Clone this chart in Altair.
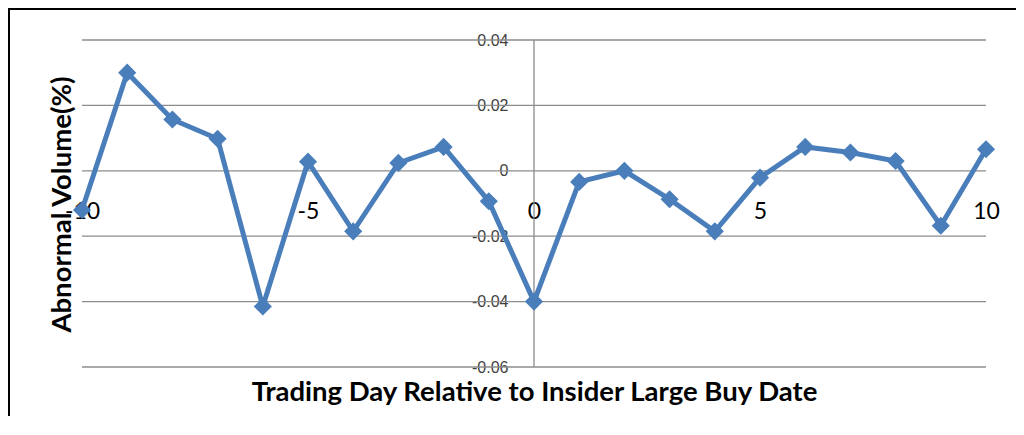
import altair as alt
import pandas as pd

days = list(range(-10, 11))
abnormal_volume = [-0.0120, 0.0300, 0.0157, 0.0098, -0.0415, 0.0028, -0.0185,
                   0.0024, 0.0073, -0.0093, -0.0400, -0.0034, 0.0000, -0.0087,
                   -0.0185, -0.0021, 0.0073, 0.0056, 0.0030, -0.0168, 0.0066]
y_ticks = [-0.06, -0.04, -0.02, 0, 0.02, 0.04]
x_ticks = [-10, -5, 0, 5, 10]
x_title = "Trading Day Relative to Insider Large Buy Date"
y_title = "Abnormal Volume(%)"

df = pd.DataFrame({"day": days, "abn": abnormal_volume})
grid_df = pd.DataFrame({"v": y_ticks})
zero_df = pd.DataFrame({"d": [0]})
frame_df = pd.DataFrame({"a": [0]})

W, H = 904, 327
PL, PT, PR, PB = 74, 32, 30, 49
BLUE = "#4A7EBB"
GRID = "#8C8C8C"

xs = alt.Scale(domain=[-10, 10], nice=False, zero=False)
ys = alt.Scale(domain=[-0.06, 0.04], nice=False, zero=False)

zero_y = H * 0.04 / 0.10  # pixel position of value 0 from top

x_axis = alt.Axis(values=x_ticks, title=x_title, offset=-(H - zero_y),
                  domain=False, ticks=False, tickSize=0, grid=False,
                  labelExpr="toString(datum.value)",
                  labelFont="Lato", labelFontSize=23, labelColor="#000000",
                  labelPadding=41, labelBaseline="middle", labelFlush=False,
                  titleFont="Lato", titleFontSize=27.5, titleFontWeight="bold",
                  titleColor="#000000", titleX=W / 2, titleY=352.5 - zero_y,
                  titleBaseline="middle", titleAlign="center", zindex=0)
y_axis = alt.Axis(values=y_ticks, title=y_title, offset=-W / 2,
                  domain=False, ticks=False, tickSize=0, grid=False,
                  labelExpr="toString(datum.value)",
                  labelFont="Liberation Sans", labelFontSize=16, labelColor="#404040",
                  labelPadding=26, labelFlush=False,
                  titleFont="Lato", titleFontSize=27.5, titleFontWeight="bold",
                  titleColor="#000000", titleX=-20 - W / 2, titleY=164,
                  titleBaseline="middle", titleAlign="center", titleAngle=270,
                  zindex=0)

grid = alt.Chart(grid_df).mark_rule(color=GRID, strokeWidth=1.3).encode(
    y=alt.Y("v:Q", scale=ys, axis=y_axis))
zero_line = alt.Chart(zero_df).mark_rule(color=GRID, strokeWidth=1.3).encode(
    x=alt.X("d:Q", scale=xs, axis=x_axis))

line = alt.Chart(df).mark_line(color=BLUE, strokeWidth=5).encode(
    x=alt.X("day:Q", scale=xs, axis=x_axis),
    y=alt.Y("abn:Q", scale=ys, axis=y_axis))
points = alt.Chart(df).mark_point(shape="diamond", filled=True, color=BLUE,
                                  size=330, opacity=1).encode(
    x=alt.X("day:Q", scale=xs, axis=x_axis),
    y=alt.Y("abn:Q", scale=ys, axis=y_axis))

# outer chart frame (top and left edges; the others run off the page)
frame_top = alt.Chart(frame_df).mark_rect(color="#000000", strokeWidth=0).encode(
    x=alt.value(-PL), x2=alt.value(W + PR + 40),
    y=alt.value(-PT), y2=alt.value(-PT + 2))
frame_left = alt.Chart(frame_df).mark_rect(color="#000000", strokeWidth=0).encode(
    x=alt.value(-PL), x2=alt.value(-PL + 2),
    y=alt.value(-PT), y2=alt.value(H + PB + 40))

chart = alt.layer(frame_top, frame_left, grid, zero_line, line, points).properties(
    width=W, height=H,
    autosize=alt.AutoSizeParams(type="none"),
    padding={"left": PL, "top": PT, "right": PR, "bottom": PB},
).configure_view(strokeOpacity=0, strokeWidth=0)

chart.save("out.html", embed_options={"renderer": "svg", "actions": False})
